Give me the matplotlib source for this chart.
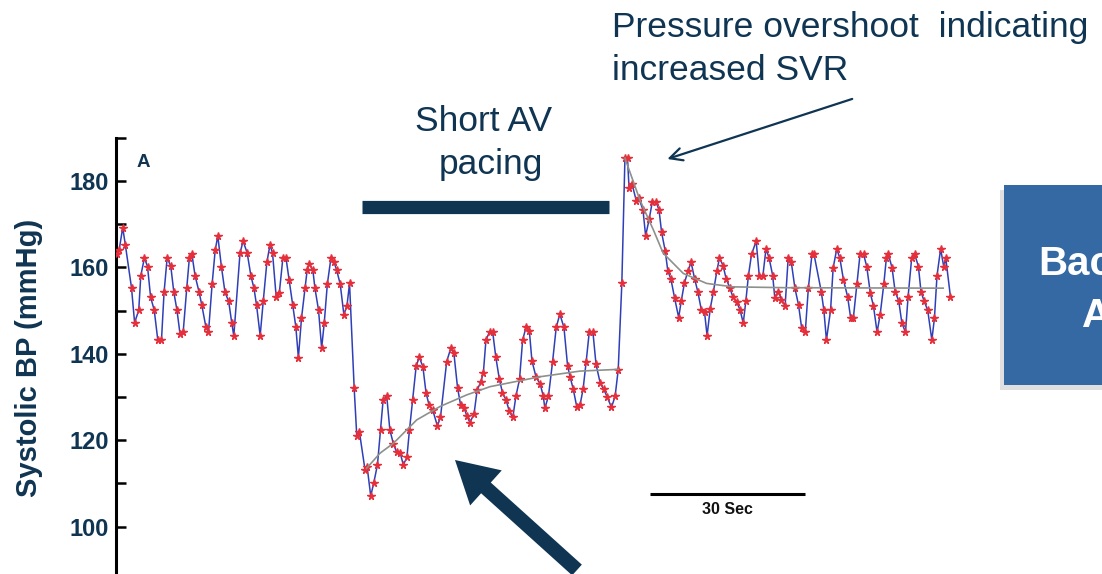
import numpy as np
import matplotlib
matplotlib.use("Agg")
import matplotlib.pyplot as plt
from matplotlib.patches import Rectangle

plt.rcParams['font.family'] = ['Liberation Sans', 'DejaVu Sans']

# systolic BP samples (time in s, pressure in mmHg)
t_bp = [0.2, 0.6, 1.3, 1.8, 3.0, 3.6, 4.4, 4.8, 5.5, 6.1, 6.7, 7.4, 8.1, 8.8, 9.3, 9.9,
        10.6, 11.2, 11.8, 12.4, 13.0, 13.7, 14.2, 14.7, 15.3, 16.1, 16.6, 17.4, 17.9,
        18.6, 19.2, 19.7, 20.4, 21.1, 21.8, 22.4, 22.8,
        24.0, 24.6, 25.4, 26.1, 26.7, 27.2, 27.9, 28.5, 29.2, 29.8, 30.3, 31.0, 31.6,
        32.3, 32.9, 33.5, 34.2, 34.8, 35.3, 35.9, 36.6, 37.0, 37.4, 38.1, 38.5, 39.2,
        39.8, 40.3, 40.9, 41.6, 42.2, 42.7, 43.4, 44.1, 44.7, 45.2,
        46.1, 46.6, 47.1, 48.2, 48.6, 49.3, 49.9, 50.6, 51.2, 51.7, 52.4, 53.0, 53.7,
        54.3, 55.0, 55.6, 56.3, 56.8, 57.4, 58.1, 58.7, 59.4, 60.0, 60.6, 61.3, 62.2,
        62.8, 64.0, 64.8, 65.4, 66.1, 66.7, 67.4, 67.9, 68.5, 69.3, 69.9, 70.6, 71.1,
        71.6, 72.3, 72.9, 73.5, 74.2, 74.8, 75.5, 76.1, 76.8, 77.4, 78.1, 78.7, 79.4,
        80.0, 80.5, 81.3, 82.1, 82.7, 83.0, 83.7, 84.5, 85.2, 85.9, 86.7, 87.4, 87.9,
        88.5, 89.2, 89.8, 90.4, 91.0, 91.6, 92.3, 92.9, 93.7, 94.4, 95.1, 95.9, 96.6,
        97.2, 97.9, 98.5, 99.0, 99.3, 99.9, 100.7, 101.2, 102.0, 102.5, 103.2, 103.8,
        104.5, 105.1, 105.6, 106.3, 106.8, 107.4, 108.1, 108.9, 109.4, 110.0, 110.7,
        111.3, 112.0, 112.6, 113.3, 113.9, 114.4, 115.0, 115.6, 116.3, 116.8, 117.5,
        118.1, 118.8, 119.4, 120.1, 120.8, 121.4, 121.9, 122.4, 123.0, 123.9, 124.5,
        125.2, 125.8, 126.4, 127.1, 127.5, 128.2, 128.8, 129.5, 130.1, 130.7, 131.4,
        132.1, 132.7, 133.4, 134.0, 134.7, 135.1, 136.5, 137.0, 137.5, 138.3, 138.8,
        139.5, 140.1, 140.8, 141.6, 142.2, 142.7, 143.4, 144.0, 144.7, 145.3, 146.0,
        146.6, 147.3, 147.9, 148.6, 149.1, 149.5, 150.2, 150.8, 151.5, 152.1, 152.8,
        153.3, 154.0, 154.6, 155.3, 155.8, 156.4, 157.1, 157.9, 158.4, 158.9, 159.6,
        160.2, 160.6, 161.5]
sbp = [163.0, 164.0, 169.2, 165.3, 155.3, 147.2, 150.1, 158.1, 162.2, 160.2, 153.1, 150.1,
       143.1, 143.1, 154.2, 162.2, 160.3, 154.2, 150.1, 144.5, 145.0, 155.3, 162.2, 163.0,
       158.1, 154.2, 151.3, 146.2, 145.0, 156.1, 164.0, 167.3, 160.2, 154.2, 152.2, 147.2,
       144.1,
       163.3, 166.1, 163.3, 158.1, 155.2, 151.3, 144.2, 152.2, 161.2, 165.2, 163.3, 153.2,
       154.0, 162.2, 162.2, 157.1, 151.3, 146.3, 139.1, 148.2, 155.3, 159.4, 160.9, 159.4,
       155.2, 150.1, 141.3, 147.1, 156.1, 162.2, 161.2, 159.4, 156.1, 149.1, 151.1, 156.3,
       132.0, 121.0, 122.0, 113.1, 113.9, 107.1, 110.2, 114.3, 122.4, 129.3, 130.2, 122.4,
       119.1, 117.3, 117.1, 114.3, 116.0, 122.4, 129.3, 137.2, 139.2, 137.0, 131.0, 128.1,
       127.0, 123.3, 125.3, 138.2, 141.3, 140.1, 132.2, 128.1, 127.4, 125.6, 124.1, 126.1,
       131.6, 133.5, 135.6, 143.2, 145.1, 145.1, 139.3, 134.1, 131.0, 129.3, 126.8, 125.3,
       130.2, 134.1, 143.2, 146.3, 145.3, 138.4, 134.6, 133.0, 130.2, 127.4, 130.2, 138.2,
       146.1, 149.2, 146.1, 137.2, 134.6, 131.8, 127.6, 128.1, 131.8, 138.2, 145.1, 145.1,
       137.6, 133.3, 131.8, 129.9, 127.6, 130.2, 136.3, 156.3, 185.3, 185.3, 178.3, 179.2,
       175.4, 176.0, 173.3, 167.3, 171.2, 175.2, 175.2, 173.3, 168.1, 163.8, 159.2, 157.3,
       153.0, 148.4, 152.2, 156.3, 159.2, 161.2, 157.3, 154.4, 150.1, 149.7, 144.2, 150.4,
       154.2, 159.2, 162.2, 160.4, 157.3, 155.3, 153.1, 152.1, 150.1, 147.1, 152.2, 158.1,
       163.0, 166.1, 158.1, 158.1, 164.3, 162.2, 158.1, 153.0, 154.4, 152.5, 151.1, 162.2,
       161.2, 155.2, 151.3, 146.0, 145.0, 155.2, 163.0, 163.0, 154.4, 150.1, 143.2, 150.1,
       159.9, 164.3, 162.1, 157.1, 153.2, 148.2, 148.2, 156.1, 163.0, 163.0, 160.2, 154.0,
       151.1, 145.0, 149.1, 156.1, 162.2, 163.0, 159.9, 154.4, 152.2, 147.1, 145.0, 153.2,
       162.2, 163.0, 160.2, 154.4, 152.2, 150.1, 143.2, 148.2, 158.1, 164.3, 160.2, 162.1,
       153.2]

# fitted recovery curves (grey)
t_fit_pacing = [48.5, 51.1, 53.7, 58.2, 62.7, 67.9, 72.4, 82.1, 89.8, 97.2]
fit_pacing = [113.5, 117.0, 119.3, 124.7, 127.8, 130.5, 132.4, 134.7, 136.0, 136.4]
t_fit_over = [98.5, 101.4, 104.0, 105.9, 109.8, 114.3, 119.4, 130.0, 160.1]
fit_over = [185.3, 175.6, 168.7, 163.3, 158.6, 156.3, 155.5, 155.3, 155.2]

pacing_start, pacing_end = 47.6, 95.4
scale_start, scale_len = 103.3, 30

navy = '#0f3553'

fig = plt.figure(figsize=(11.02, 5.74), dpi=100)
ax = fig.add_axes([116 / 1102, 0, 844 / 1102, 437 / 574])
ax.set_xlim(0, 163.35)
ax.set_ylim(89.03, 190.19)

ax.plot(t_bp, sbp, color='#2f3fb8', lw=1.1, zorder=2)
ax.plot(t_bp, sbp, ls='none', marker='*', ms=5.5, color='#e5303c', zorder=3)
ax.plot(t_fit_pacing, fit_pacing, color='#8c918c', lw=1.2, zorder=4)
ax.plot(t_fit_over, fit_over, color='#8c918c', lw=1.2, zorder=4)

# pacing bar
ax.plot([pacing_start, pacing_end], [174.1, 174.1], color=navy, lw=9.5,
        solid_capstyle='butt', clip_on=False)

# 30 s scale bar
ax.plot([scale_start, scale_start + scale_len], [107.5, 107.5], color='black', lw=2.2,
        solid_capstyle='butt')
ax.text(scale_start + scale_len / 2, 103.9, '30 Sec', ha='center', va='center',
        fontsize=11.5, fontweight='bold', color='#111111')

ax.text(5.2, 184.4, 'A', ha='center', va='center', fontsize=13.5, fontweight='bold',
        color=navy)

for s in ['top', 'right', 'bottom']:
    ax.spines[s].set_visible(False)
ax.spines['left'].set_linewidth(2.2)
ax.spines['left'].set_bounds(89.03, 190)
ax.set_xticks([])
ax.set_yticks([100, 120, 140, 160, 180])
ax.set_yticks([110, 130, 150, 170, 190], minor=True)
ax.tick_params(axis='y', which='both', direction='in', length=7.5, width=1.8, pad=5,
               labelsize=17, labelcolor=navy)
for lab in ax.get_yticklabels():
    lab.set_fontweight('bold')
fig.text(29 / 1102, 1 - 358 / 574, 'Systolic BP (mmHg)', rotation=90, ha='center',
         va='center', fontsize=21, fontweight='bold', color=navy)

# annotations
fig.text(484 / 1102, 1 - 131 / 574, 'Short AV', ha='center', va='baseline',
         fontsize=25.5, color=navy)
fig.text(491 / 1102, 1 - 174 / 574, 'pacing', ha='center', va='baseline',
         fontsize=25.5, color=navy)
fig.text(612 / 1102, 1 - 37 / 574, 'Pressure overshoot  indicating', ha='left',
         va='baseline', fontsize=25.5, color=navy)
fig.text(612 / 1102, 1 - 80 / 574, 'increased SVR', ha='left', va='baseline',
         fontsize=25.5, color=navy)

ax.annotate('', xy=(106.2, 184.9), xytext=(143.0, 199.2),
            arrowprops=dict(arrowstyle='->,head_length=0.9,head_width=0.45',
                            color=navy, lw=1.6), annotation_clip=False)
ax.annotate('', xy=(455, 574 - 460), xytext=(577, 574 - 570), xycoords='figure pixels',
            textcoords='figure pixels',
            arrowprops=dict(arrowstyle='simple,head_length=1.5,head_width=1.7,tail_width=0.52',
                            mutation_scale=20, color=navy, lw=0, shrinkA=0, shrinkB=0))

# blue box on the right
fig.add_artist(Rectangle((1000 / 1102, (574 - 390) / 574), 110 / 1102, 200 / 574,
                         transform=fig.transFigure, color='#9a9a9a', alpha=0.3, lw=0))
fig.add_artist(Rectangle((1004 / 1102, (574 - 385) / 574), 110 / 1102, 200 / 574,
                         transform=fig.transFigure, color='#3569a3', lw=0))
fig.text(1038 / 1102, 1 - 275 / 574, 'Bac', ha='left', va='baseline', fontsize=29,
         fontweight='bold', color='white')
fig.text(1082 / 1102, 1 - 327 / 574, 'A', ha='left', va='baseline', fontsize=29,
         fontweight='bold', color='white')

fig.savefig('out.png', dpi=100)
